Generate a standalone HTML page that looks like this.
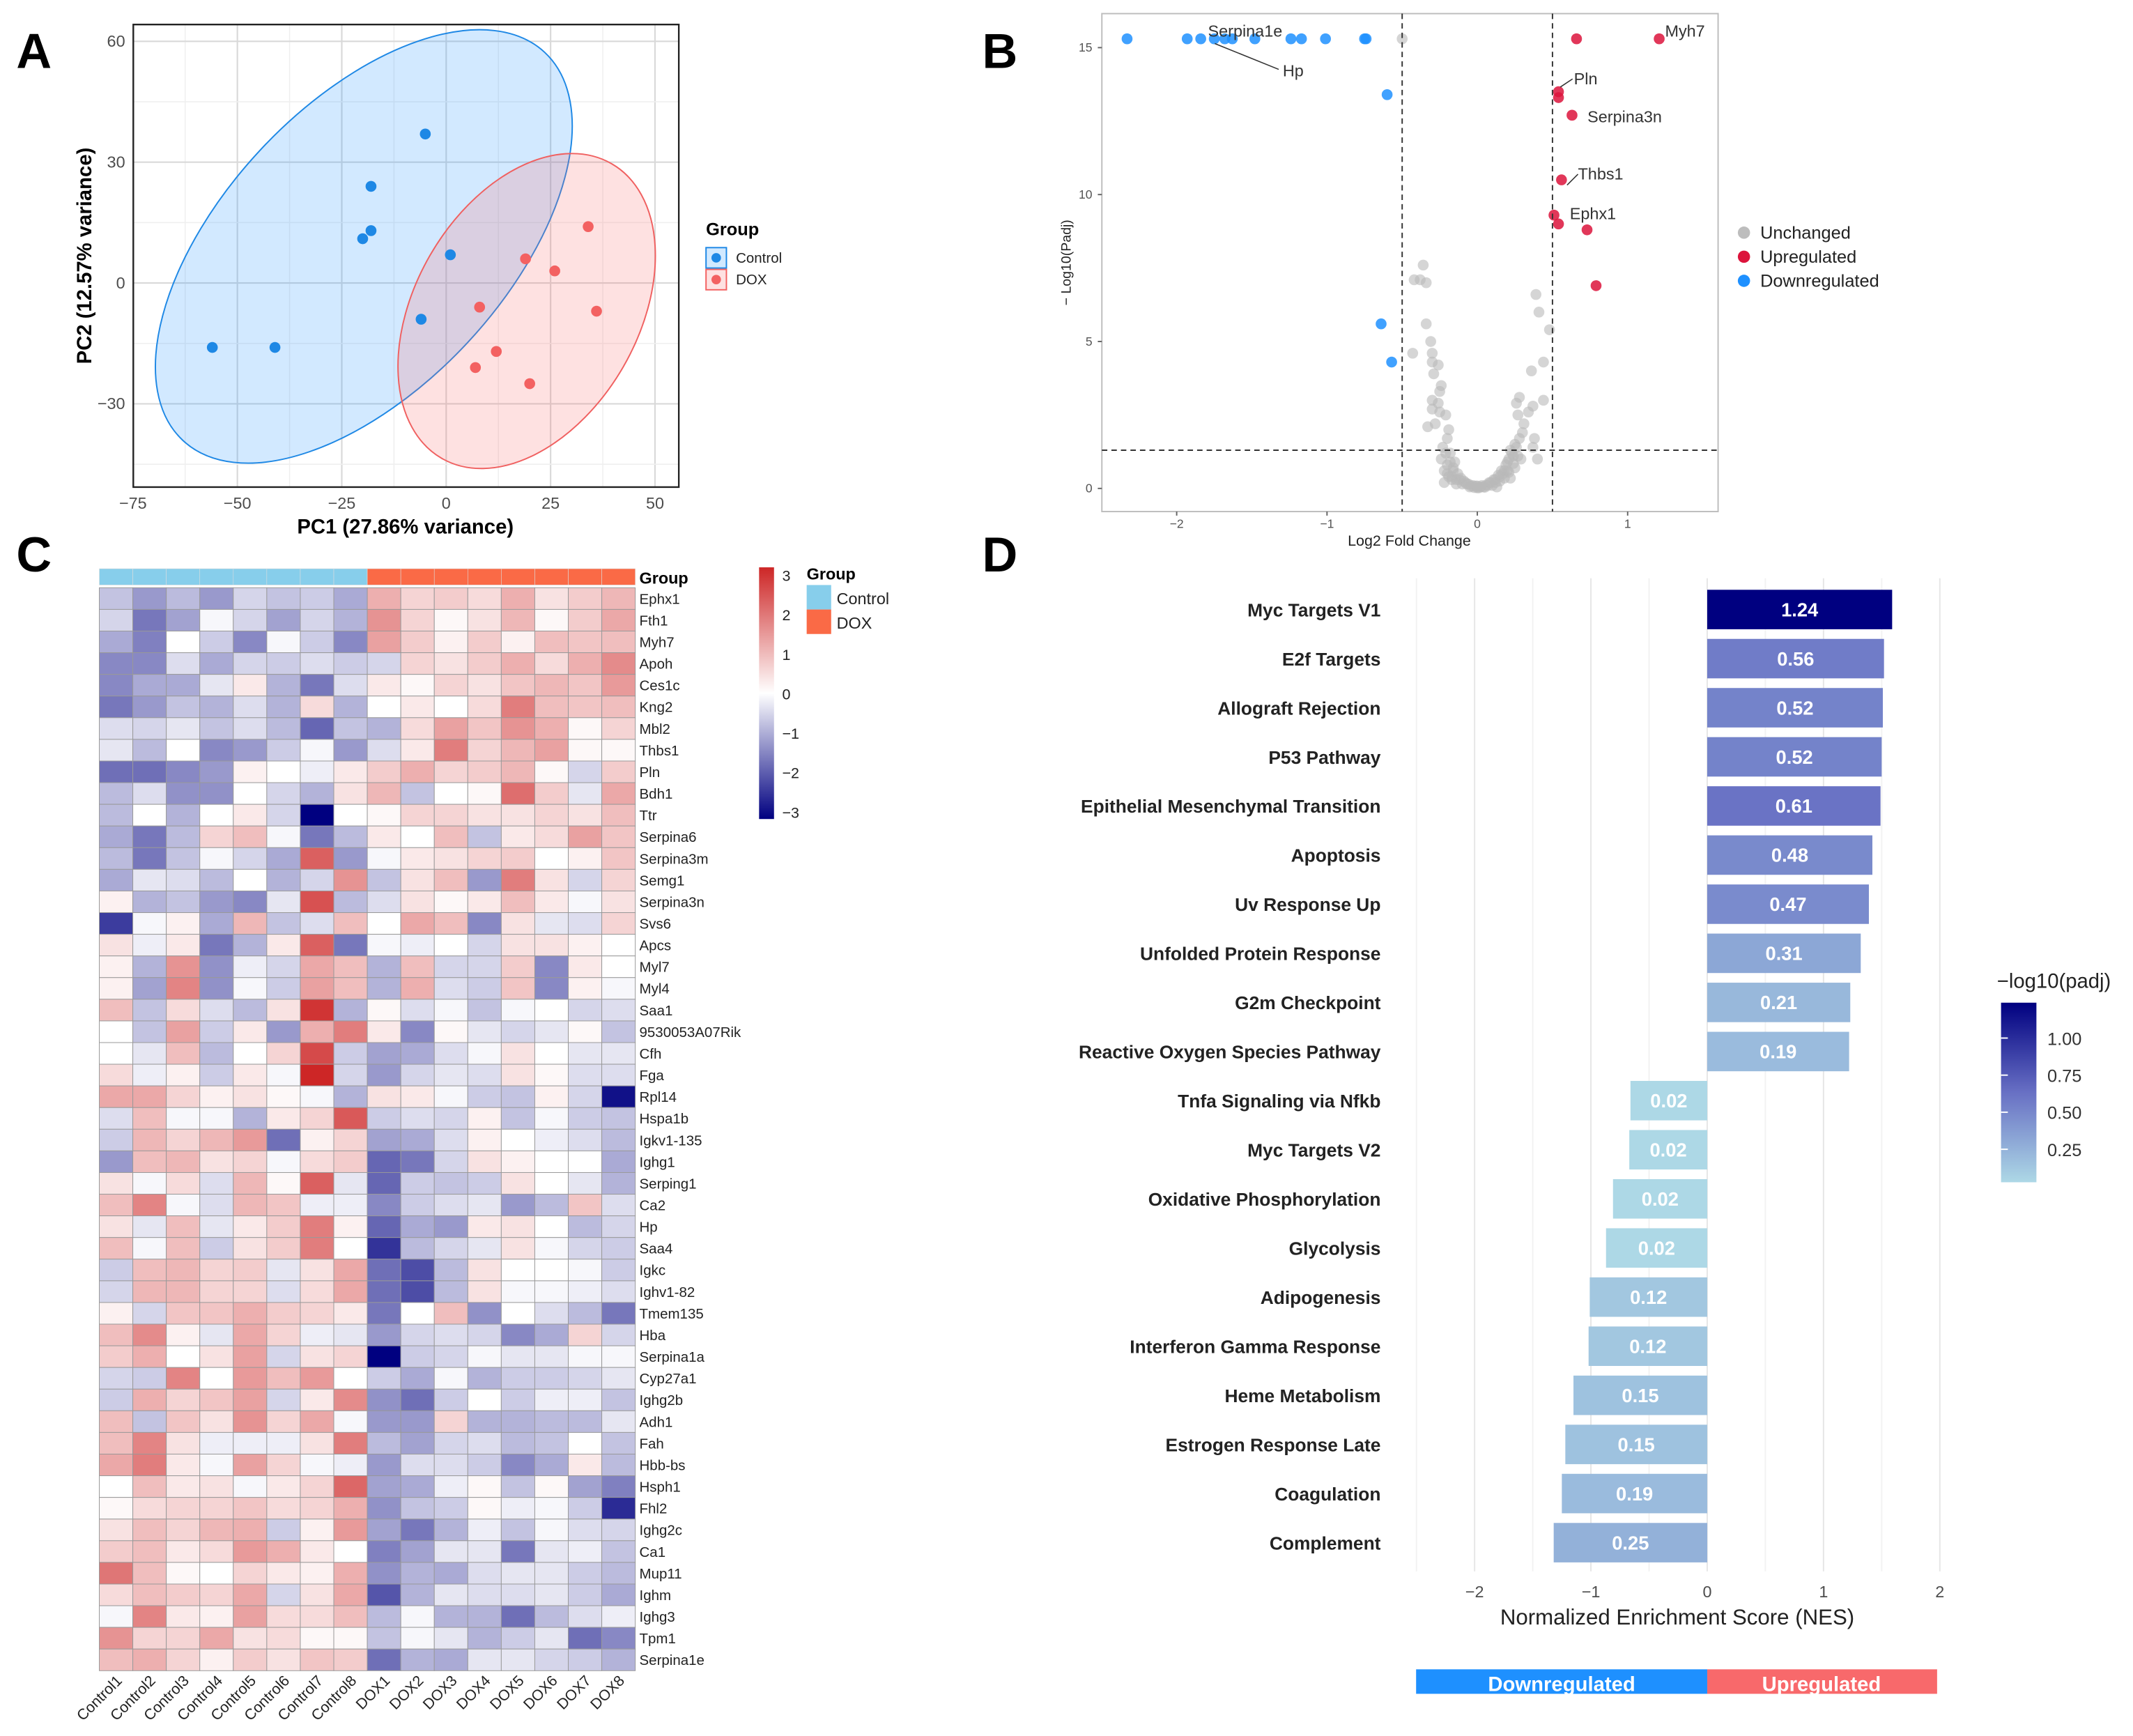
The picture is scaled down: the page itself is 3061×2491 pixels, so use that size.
<!DOCTYPE html>
<html><head><meta charset="utf-8"><style>
html,body{margin:0;padding:0;background:#fff;}
svg{display:block;font-family:"Liberation Sans",Arial,sans-serif;}
</style></head><body>
<svg id="fig" width="3061" height="2491" viewBox="0 0 1568 1276" xmlns="http://www.w3.org/2000/svg">
<rect x="0" y="0" width="1568" height="1276" fill="#fff"/>
<text x="12" y="50" font-size="36" font-weight="bold">A</text>
<text x="722" y="50" font-size="36" font-weight="bold">B</text>
<text x="12" y="420" font-size="36" font-weight="bold">C</text>
<text x="722" y="420" font-size="36" font-weight="bold">D</text>
<g id="pA"></g>
<g id="pB"></g>
<g id="pC"></g>
<g id="pD"></g>
</svg>
<script>
// ---------- Panel A data ----------
const pcaXTicks = [-75,-50,-25,0,25,50];
const pcaYTicks = [-30,0,30,60];
const ctrlPC1 = [-56,-41,-18,-18,-20,-5,1,-6];
const ctrlPC2 = [-16,-16,24,13,11,37,7,-9];
const doxPC1 = [8,19,26,34,36,12,7,20];
const doxPC2 = [-6,6,3,14,-7,-17,-21,-25];
const pcaGroups = ['Control','DOX'];
// ---------- Panel B data ----------
const volXTicks = [-2,-1,0,1];
const volYTicks = [0,5,10,15];
const downLFC = [-2.33,-1.93,-1.84,-1.75,-1.68,-1.63,-1.48,-1.24,-1.17,-1.01,-0.75,-0.74,-0.6,-0.64,-0.57];
const downP = [15.3,15.3,15.3,15.3,15.3,15.3,15.3,15.3,15.3,15.3,15.3,15.3,13.4,5.6,4.3];
const upLFC = [0.66,1.21,0.54,0.54,0.63,0.56,0.51,0.54,0.73,0.79];
const upP = [15.3,15.3,13.5,13.3,12.7,10.5,9.3,9.0,8.8,6.9];
const grayLFC = [-0.5,-0.36,-0.42,-0.38,-0.34,-0.34,-0.31,-0.43,-0.3,-0.3,-0.26,-0.29,-0.24,-0.25,-0.3,-0.26,-0.3,-0.25,-0.21,-0.28,-0.33,-0.19,-0.2,-0.23,-0.18,-0.24,-0.2,-0.16,-0.19,-0.14,-0.1,-0.05,0,0.05,0.1,0.15,0.39,0.41,0.48,0.44,0.36,0.28,0.26,0.37,0.44,0.34,0.27,0.31,0.3,0.28,0.38,0.25,0.37,0.22,0.4,0.29,0.2,0.25,0.17,0.22,0.12,-0.12,-0.08,-0.03,0.02,0.07,0.12,0.18,-0.15,-0.22,0.2,0.24,-0.17,0.15,-0.06,0.08,0.03,-0.01,
 -0.21,-0.18,-0.16,-0.13,-0.11,-0.09,-0.07,-0.04,-0.02,0.01,0.04,0.06,0.09,0.11,0.14,0.16,0.19,0.21,0.23,0.26,-0.2,-0.17,-0.14,0.18,0.21,0.24,0.27,-0.22,0.13,0.0];
const grayP = [15.3,7.6,7.1,7.1,7.0,5.6,5.0,4.6,4.6,4.3,4.2,3.9,3.5,3.3,3.0,2.9,2.7,2.6,2.5,2.2,2.1,2.0,1.7,1.4,1.2,1.0,0.8,0.6,0.4,0.3,0.15,0.05,0.02,0.04,0.1,0.25,6.6,6.0,5.4,4.3,4.0,3.1,2.9,2.8,3.0,2.6,2.5,2.2,1.9,1.7,1.7,1.5,1.4,1.3,1.0,1.0,0.9,0.7,0.5,0.35,0.2,0.3,0.2,0.1,0.05,0.1,0.3,0.6,0.9,0.6,0.6,1.1,0.4,0.4,0.15,0.2,0.1,0.08,
 1.2,0.9,0.7,0.5,0.35,0.25,0.15,0.08,0.03,0.02,0.05,0.12,0.2,0.3,0.45,0.6,0.8,1.0,1.2,1.4,0.5,0.3,0.15,0.35,0.55,0.85,1.1,0.2,0.05,0.08];
const volLabels = ['Serpina1e','Hp','Myh7','Pln','Serpina3n','Thbs1','Ephx1'];
// ---------- Panel C data ----------
const samples = ['Control1','Control2','Control3','Control4','Control5','Control6','Control7','Control8','DOX1','DOX2','DOX3','DOX4','DOX5','DOX6','DOX7','DOX8'];
const genes = ['Ephx1','Fth1','Myh7','Apoh','Ces1c','Kng2','Mbl2','Thbs1','Pln','Bdh1','Ttr','Serpina6','Serpina3m','Semg1','Serpina3n','Svs6','Apcs','Myl7','Myl4','Saa1','9530053A07Rik','Cfh','Fga','Rpl14','Hspa1b','Igkv1-135','Ighg1','Serping1','Ca2','Hp','Saa4','Igkc','Ighv1-82','Tmem135','Hba','Serpina1a','Cyp27a1','Ighg2b','Adh1','Fah','Hbb-bs','Hsph1','Fhl2','Ighg2c','Ca1','Mup11','Ighm','Ighg3','Tpm1','Serpina1e'];
const zscores = [
[-0.7,-1.2,-0.8,-1.2,-0.5,-0.7,-0.6,-1,1.1,0.6,0.7,0.5,1.1,0.4,0.7,1.0],
[-0.5,-1.6,-1.1,-0.1,-0.5,-1.1,-0.5,-0.9,1.5,0.6,0.1,0.4,1.0,0.1,0.7,1.2],
[-1,-1.5,0,-0.6,-1.4,-0.1,-0.6,-1.4,1.3,0.7,0.2,0.7,0.2,0.9,0.8,0.9],
[-1.4,-1.4,-0.4,-1,-0.5,-0.6,-0.4,-0.6,-0.5,0.6,0.4,0.7,1.1,0.5,1.1,1.6],
[-1.4,-1,-1,-0.3,0.3,-0.9,-1.6,-0.4,0.3,0.1,0.6,0.4,0.8,1.0,0.8,1.4],
[-1.6,-1.2,-0.7,-0.9,-0.4,-0.9,0.5,-0.9,0,0.3,0,0.5,1.8,0.9,0.8,0.9],
[-0.4,-0.5,-0.3,-0.7,-0.4,-0.8,-1.8,-0.7,-0.9,0.5,1.3,0.8,1.5,1.1,0.1,0.6],
[-0.3,-0.8,0,-1.4,-1.2,-0.6,-0.1,-1.2,-0.4,0.3,1.8,0.6,1.0,1.3,0.1,0.1],
[-1.7,-1.7,-1.4,-1.2,0.2,0,-0.2,0.3,0.7,1.1,0.6,0.7,1.0,0.1,-0.5,0.7],
[-0.8,-0.4,-1.3,-1.3,0,-0.5,-0.9,0.4,1.0,-0.7,0,0.1,2.0,0.7,-0.3,1.2],
[-0.8,0,-0.9,0,0.3,-0.5,-3,0,0.1,0.6,0.6,0.4,0.4,0.6,0.4,0.9],
[-1,-1.6,-0.8,0.6,0.9,-0.1,-1.6,-0.8,0.3,0,0.9,-0.7,0.3,0.5,1.3,0.8],
[-0.8,-1.6,-0.7,-0.1,-0.5,-1,2.2,-1.2,-0.1,0.3,0.4,0.6,0.7,0,0.2,0.8],
[-1,-0.3,-0.4,-0.8,0,-0.9,-0.5,1.5,-0.7,0.4,0.9,-1.2,1.8,0.4,-0.5,0.6],
[0.2,-0.9,-0.7,-1.2,-1.4,-0.3,2.4,-0.8,-0.4,0.4,0.1,0.3,0.9,0.3,-0.1,0.4],
[-2.3,-0.1,0.2,-1,1,-0.7,-0.4,0.9,0,1.2,0.9,-1.4,0.4,-0.3,-0.4,0.6],
[0.4,-0.2,0.3,-1.6,-0.9,0.3,2.2,-1.6,-0.1,-0.2,0,-0.5,0.4,0.4,0.2,0],
[0.2,-0.9,1.5,-1.3,-0.2,-0.5,1.2,0.9,-0.9,0.9,-0.5,-0.5,0.7,-1.4,0.3,0],
[0.2,-1.1,1.7,-1.3,-0.1,-0.6,1.3,0.9,-0.9,1.1,-0.4,-0.6,0.8,-1.4,0.2,-0.1],
[0.9,-0.7,0.5,-0.4,-0.8,0.4,2.8,-0.9,0.1,-0.4,-0.1,-0.7,-0.1,0,-0.5,-0.4],
[0,-0.7,1.3,-0.6,0.3,-1.2,1.1,1.8,0.3,-1.4,0.1,-0.3,-0.5,-0.3,0.1,-0.7],
[0,-0.3,0.9,-0.8,0,0.6,2.5,-0.6,-1.1,-1.0,-0.4,-0.1,0.4,0,-0.3,-0.3],
[0.5,-0.2,0.2,-0.6,0.3,-0.1,3,-0.5,-1.2,-0.5,-0.3,-0.4,0.4,0.1,-0.4,-0.4],
[1.2,1.2,0.6,0.2,0.4,0.1,-0.1,-0.9,0.4,0.3,-0.1,-0.6,-0.7,0.2,-0.5,-2.8],
[-0.4,0.9,-0.1,-0.1,-0.9,0.3,0.6,2.3,-0.6,-0.4,-0.5,0.2,-0.7,-0.1,-0.6,-0.7],
[-0.6,1,0.6,1,1.4,-1.7,0.2,0.6,-1.1,-1,-0.4,0.2,0,-0.2,-0.4,-0.8],
[-1.2,0.9,1.0,0.4,0.6,-0.1,0.5,0.7,-1.8,-1.6,-0.5,0.4,0.2,0,0,-1.0],
[0.4,-0.1,0.5,-0.4,1,0.1,2.2,-0.3,-1.8,-0.6,-0.7,-0.6,0.4,0,-0.3,-0.9],
[0.9,1.7,-0.1,-0.4,1,0.8,-0.2,-0.2,-1.4,-0.6,-0.4,-0.3,-1.2,-0.8,0.8,-0.4],
[0.4,-0.3,0.9,-0.3,0.3,0.7,1.8,0.2,-1.8,-1,-1.2,0.3,0.4,0,-0.8,-0.5],
[0.9,-0.1,0.9,-0.6,0.4,0.7,1.8,0,-2.4,-0.8,-0.5,-0.3,0.4,-0.1,-0.5,-0.6],
[-0.6,0.9,1,0.6,0.7,-0.3,0.4,1.2,-1.7,-2.1,-0.8,0.4,0,0,-0.1,-0.6],
[-0.5,1,1,0.6,0.6,-0.4,0.5,1.2,-1.7,-2.1,-0.8,0.4,-0.1,-0.1,-0.2,-0.4],
[0.2,-0.5,0.8,0.8,1.1,0.7,0.6,0.3,-1.6,0,0.9,-1.3,0,-0.4,-0.8,-1.6],
[0.9,1.6,0.2,-0.3,1.2,0.6,-0.2,-0.3,-1.2,-0.5,-0.4,-0.5,-1.4,-1,0.6,-0.5],
[0.7,1.1,0,0.4,1.3,-0.5,0.4,0.6,-3,-0.6,-0.5,-0.1,-0.3,-0.3,-0.1,-0.1],
[-0.5,-0.6,1.7,0,1.4,0.9,1.4,0,-0.6,-1,-0.1,-0.9,-0.6,-0.6,-0.5,-0.3],
[-0.6,1.1,0.6,0.8,1.3,-0.5,0.3,1.6,-1.3,-1.7,-0.6,0,-0.6,-0.2,-0.2,-0.7],
[0.9,-0.7,0.8,0.4,1.5,0.6,1.2,-0.1,-1.2,-1.2,0.6,-0.9,-0.9,-0.8,-0.8,-0.3],
[0.9,1.7,0.4,-0.2,-0.2,-0.2,0.4,1.8,-0.8,-1.1,-0.5,-0.4,-0.8,-0.7,0,-0.7],
[1.2,1.8,0.3,-0.1,1.3,0.6,-0.1,-0.2,-1.2,-0.4,-0.4,-0.6,-1.4,-1,0.3,-0.8],
[0,0.9,0.3,0.4,-0.1,0.3,0.6,2.1,-1.1,-1,-0.2,0.1,-0.7,0.1,-1.1,-1.5],
[0.1,0.5,0.6,0.6,0.8,0.5,0.6,1.1,-1.3,-0.7,-0.6,0.1,-0.2,-0.1,-0.6,-2.5],
[0.4,0.9,0.6,1,1.1,-0.6,0.2,1.4,-1.1,-1.6,-0.9,-0.2,-0.7,-0.1,-0.4,-0.5],
[0.7,0.9,0.3,0.5,1.4,1.1,0.3,0,-1.5,-1.1,-0.3,-0.3,-1.6,-0.3,-0.2,-0.7],
[1.9,0.9,0.1,0,0.6,0.3,0.2,1.1,-1.3,-0.9,-1.0,-0.4,-0.3,-0.3,-0.6,-0.8],
[0.5,0.9,0.7,0.6,1.2,-0.5,0.4,1.2,-2,-0.9,-0.3,-0.4,-0.4,-0.3,-0.6,-1],
[-0.1,1.7,0.3,0.2,1.3,0.5,0.5,0.9,-0.8,-0.1,-0.9,-0.9,-1.7,-0.8,-0.4,-0.2],
[1.5,0.6,0.6,1.2,0.4,0.5,0.1,0.1,-0.7,-0.1,-0.3,-0.9,-0.6,-0.3,-1.7,-1.4],
[0.9,1.1,0.6,0.2,0.7,0.4,0.8,0.7,-1.7,-0.9,-1,-0.3,-0.3,-0.5,-0.6,-0.9]];
const scaleTicks = [3,2,1,0,-1,-2,-3];
// ---------- Panel D data ----------
const pathways = ['Myc Targets V1','E2f Targets','Allograft Rejection','P53 Pathway','Epithelial Mesenchymal Transition','Apoptosis','Uv Response Up','Unfolded Protein Response','G2m Checkpoint','Reactive Oxygen Species Pathway','Tnfa Signaling via Nfkb','Myc Targets V2','Oxidative Phosphorylation','Glycolysis','Adipogenesis','Interferon Gamma Response','Heme Metabolism','Estrogen Response Late','Coagulation','Complement'];
const nes = [1.59,1.52,1.51,1.50,1.49,1.42,1.39,1.32,1.23,1.22,-0.66,-0.67,-0.81,-0.87,-1.01,-1.02,-1.15,-1.22,-1.25,-1.32];
const padjLog = [1.24,0.56,0.52,0.52,0.61,0.48,0.47,0.31,0.21,0.19,0.02,0.02,0.02,0.02,0.12,0.12,0.15,0.15,0.19,0.25];
const nesTicks = [-2,-1,0,1,2];
const padjScaleTicks = [1.00,0.75,0.50,0.25];

const svg = document.getElementById('fig');
const NS = svg.namespaceURI;
function el(tag, attrs, parent){ const e=document.createElementNS(NS,tag); for(const k in attrs) e.setAttribute(k,attrs[k]); parent.appendChild(e); return e; }
function tx(str, attrs, parent){ const e=el('text',attrs,parent); e.textContent=str; return e; }

// ================= Panel A =================
(function(){
const g = document.getElementById('pA');
const xA = v => 328 + v*3.07, yA = v => 208 - v*2.96;
let r = el('rect',{x:98,y:18,width:401,height:340,fill:'#fff'},g);


for (let i=0;i<pcaXTicks.length;i++){
  const v=pcaXTicks[i];
  let l = el('line',{x1:xA(v),x2:xA(v),y1:18,y2:358,stroke:'#d9d9d9','stroke-width':1.1},g);
  
  
  if (i<pcaXTicks.length-1){
    let m = el('line',{x1:xA(v+12.5),x2:xA(v+12.5),y1:18,y2:358,stroke:'#efefef','stroke-width':0.8},g);
    
    
  }
  let t = tx(String(v).replace('-','\u2212'),{x:xA(v),y:374,'font-size':12,fill:'#4d4d4d','text-anchor':'middle'},g);
  
  
}
for (let i=0;i<pcaYTicks.length;i++){
  const v=pcaYTicks[i];
  let l = el('line',{x1:98,x2:499,y1:yA(v),y2:yA(v),stroke:'#d9d9d9','stroke-width':1.1},g);
  
  
  let m = el('line',{x1:98,x2:499,y1:yA(v-15),y2:yA(v-15),stroke:'#efefef','stroke-width':0.8},g);
  
  
  let t = tx(String(v).replace('-','\u2212'),{x:92,y:yA(v)+4,'font-size':12,fill:'#4d4d4d','text-anchor':'end'},g);
  
  
}
let m2 = el('line',{x1:98,x2:499,y1:yA(-45),y2:yA(-45),stroke:'#efefef','stroke-width':0.8},g);


const mean = a => a.reduce((s,v)=>s+v,0)/a.length;
let e1 = el('ellipse',{cx:0,cy:0,rx:195,ry:104,fill:'rgba(30,144,255,0.2)',stroke:'#1E88E5','stroke-width':1,transform:`translate(${xA(mean(ctrlPC1))+2},${yA(mean(ctrlPC2))-8}) rotate(-47)`},g);


let e2 = el('ellipse',{cx:0,cy:0,rx:125,ry:82,fill:'rgba(248,105,107,0.2)',stroke:'#F06060','stroke-width':1,transform:`translate(${xA(mean(doxPC1))-3},${yA(mean(doxPC2))+1}) rotate(-60)`},g);


for (let i=0;i<ctrlPC1.length;i++){
  let c = el('circle',{cx:xA(ctrlPC1[i]),cy:yA(ctrlPC2[i]),r:4,fill:'#1E88E5'},g);
  
  
}
for (let i=0;i<doxPC1.length;i++){
  let c = el('circle',{cx:xA(doxPC1[i]),cy:yA(doxPC2[i]),r:4,fill:'#F36161'},g);
  
  
}
let b = el('path',{d:'M98,18 H499 V358 H98 Z',fill:'none',stroke:'#222','stroke-width':1.2},g);


let xt = tx('PC1 (27.86% variance)',{x:298,y:392,'font-size':15,'font-weight':'bold','text-anchor':'middle'},g);


let yt = tx('PC2 (12.57% variance)',{x:0,y:0,'font-size':15,'font-weight':'bold','text-anchor':'middle',transform:'translate(67,188) rotate(-90)'},g);


let lt = tx('Group',{x:519,y:173,'font-size':13,'font-weight':'bold'},g);


const cols=[['#1E88E5','rgba(30,144,255,0.2)'],['#F36161','rgba(248,105,107,0.2)']];
for (let i=0;i<pcaGroups.length;i++){
  const yy = 182+i*16;
  let s = el('rect',{x:519,y:yy,width:15,height:15,fill:cols[i][1],stroke:cols[i][0],'stroke-width':1},g);
  
  
  let d = el('circle',{cx:526.5,cy:yy+7.5,r:3.5,fill:cols[i][0]},g);
  
  
  let t = tx(pcaGroups[i],{x:541,y:yy+11,'font-size':10.5,fill:'#222'},g);
  
  
}
})();

// ================= Panel B =================
(function(){
const g = document.getElementById('pB');
const xV = v => 1086 + v*110.5, yV = v => 359 - v*21.6;
let r = el('rect',{x:810,y:10,width:453,height:366,fill:'#fff',stroke:'#bdbdbd','stroke-width':1},g);


for (const v of volXTicks){
  let k = el('line',{x1:xV(v),x2:xV(v),y1:376,y2:379,stroke:'#666'},g);
  
  
  let t = tx(String(v).replace('-','\u2212'),{x:xV(v),y:388,'font-size':9,fill:'#555','text-anchor':'middle'},g);
  
  
}
for (const v of volYTicks){
  let k = el('line',{x1:807,x2:810,y1:yV(v),y2:yV(v),stroke:'#666'},g);
  
  
  let t = tx(String(v),{x:803,y:yV(v)+3,'font-size':9,fill:'#555','text-anchor':'end'},g);
  
  
}
for (let i=0;i<grayLFC.length;i++){
  let c = el('circle',{cx:xV(grayLFC[i]),cy:yV(grayP[i]),r:4,fill:'rgba(185,185,185,0.6)'},g);
  
  
}
for (let i=0;i<downLFC.length;i++){
  let c = el('circle',{cx:xV(downLFC[i]),cy:yV(downP[i]),r:4,fill:'rgba(30,144,255,0.85)'},g);
  
  
}
for (let i=0;i<upLFC.length;i++){
  let c = el('circle',{cx:xV(upLFC[i]),cy:yV(upP[i]),r:4,fill:'rgba(220,20,60,0.85)'},g);
  
  
}
let v1 = el('line',{x1:xV(-0.5),x2:xV(-0.5),y1:10,y2:376,stroke:'#333','stroke-dasharray':'4,3','stroke-width':1},g);


let v2 = el('line',{x1:xV(0.5),x2:xV(0.5),y1:10,y2:376,stroke:'#333','stroke-dasharray':'4,3','stroke-width':1},g);


let h1 = el('line',{x1:810,x2:1263,y1:yV(1.3),y2:yV(1.3),stroke:'#333','stroke-dasharray':'4,3','stroke-width':1},g);


const lp = [[888,27],[943,56],[1224,27],[1157,62],[1167,90],[1160,132],[1154,161]];
for (let i=0;i<volLabels.length;i++){
  let t = tx(volLabels[i],{x:lp[i][0],y:lp[i][1],'font-size':12,fill:'#333'},g);
  
  
}
const seg = [[893,32,940,51],[1147,64,1156,58],[1152,136,1160,128]];
for (const s of seg){
  let l = el('line',{x1:s[0],y1:s[1],x2:s[2],y2:s[3],stroke:'#333','stroke-width':0.8},g);
  
  
}
let xt = tx('Log2 Fold Change',{x:1036,y:401,'font-size':11,fill:'#222','text-anchor':'middle'},g);


let yt = tx('\u2212 Log10(Padj)',{x:0,y:0,'font-size':10,fill:'#222','text-anchor':'middle',transform:'translate(787,193) rotate(-90)'},g);


const leg = [['Unchanged','#bdbdbd'],['Upregulated','#DC143C'],['Downregulated','#1E90FF']];
for (let i=0;i<leg.length;i++){
  let c = el('circle',{cx:1282,cy:171+i*17.7,r:4.5,fill:leg[i][1]},g);
  
  
  let t = tx(leg[i][0],{x:1294,y:175.5+i*17.7,'font-size':13,fill:'#222'},g);
  
  
}
})();

// ================= Panel C =================
(function(){
const g = document.getElementById('pC');
const x0=73, cw=(467-73)/16, y0=432, rh=(1228-432)/50;
function hcol(v){
  v=Math.max(-3,Math.min(3,v));
  let a,b,t;
  if (v<0){a=[0,0,128];b=[255,255,255];t=(v+3)/3;} else {a=[255,255,255];b=[205,38,38];t=v/3;}
  const c=a.map((x,i)=>Math.round(x+(b[i]-x)*t));
  return `rgb(${c[0]},${c[1]},${c[2]})`;
}
for (let j=0;j<samples.length;j++){
  let gb = el('rect',{x:x0+j*cw,y:418,width:cw,height:12,fill:j<8?'#87CEEB':'#FA6A46',stroke:'#ddd','stroke-width':0.3},g);
  
  
  let t = tx(samples[j],{x:0,y:0,'font-size':11,fill:'#222','text-anchor':'end',transform:`translate(${x0+j*cw+cw/2+5},${1236}) rotate(-45)`},g);
  
  
}
for (let i=0;i<genes.length;i++){
  for (let j=0;j<samples.length;j++){
    let c = el('rect',{x:x0+j*cw,y:y0+i*rh,width:cw,height:rh,fill:hcol(zscores[i][j]),stroke:'#999','stroke-width':0.5},g);
    
    
  }
  let t = tx(genes[i],{x:470,y:y0+i*rh+rh/2+3.8,'font-size':10.5,fill:'#222'},g);
  
  
}
let gt = tx('Group',{x:470,y:429,'font-size':12,'font-weight':'bold'},g);


const defs = el('defs',{},g);
const lg = el('linearGradient',{id:'hg',x1:0,y1:0,x2:0,y2:1},defs);
el('stop',{offset:'0','stop-color':'#CD2626'},lg);
el('stop',{offset:'0.5','stop-color':'#ffffff'},lg);
el('stop',{offset:'1','stop-color':'#000080'},lg);
let cb = el('rect',{x:558,y:417,width:11,height:185,fill:'url(#hg)'},g);


for (const v of scaleTicks){
  const yy = 510 - v*29;
  let t = tx(String(v).replace('-','\u2212'),{x:575,y:yy+4,'font-size':11,fill:'#222'},g);
  
  
}
let lt = tx('Group',{x:593,y:426,'font-size':12,'font-weight':'bold'},g);


const lg2=[['Control','#87CEEB'],['DOX','#FA6A46']];
for (let i=0;i<2;i++){
  let s = el('rect',{x:593,y:430+i*18,width:18,height:18,fill:lg2[i][1]},g);
  
  
  let t = tx(lg2[i][0],{x:615,y:444+i*18,'font-size':12,fill:'#222'},g);
  
  
}
})();

// ================= Panel D =================
(function(){
const g = document.getElementById('pD');
const xD = v => 1255 + v*85.5;
const yD = i => 448 + i*36.1;
function pc(v){
  const t=Math.max(0,Math.min(1,(v-0.02)/1.22));
  const s=[[173,216,230],[104,112,196],[0,0,128]];
  let a,b,u;
  if(t<0.5){a=s[0];b=s[1];u=t/0.5;}else{a=s[1];b=s[2];u=(t-0.5)/0.5;}
  const c=a.map((x,i)=>Math.round(x+(b[i]-x)*u));
  return `rgb(${c[0]},${c[1]},${c[2]})`;
}
for (let v=-2.5; v<=2; v+=0.5){
  let l = el('line',{x1:xD(v),x2:xD(v),y1:425,y2:1155,stroke:Number.isInteger(v)?'#e6e6e6':'#f2f2f2','stroke-width':1},g);
  
  
}
for (const v of nesTicks){
  let t = tx(String(v).replace('-','\u2212'),{x:xD(v),y:1174,'font-size':12,fill:'#4d4d4d','text-anchor':'middle'},g);
  
  
}
for (let i=0;i<pathways.length;i++){
  const x1=Math.min(xD(0),xD(nes[i])), w=Math.abs(xD(nes[i])-xD(0));
  let b = el('rect',{x:x1,y:yD(i)-14.5,width:w,height:29,fill:pc(padjLog[i])},g);
  
  
  let v = tx(padjLog[i].toFixed(2),{x:x1+w/2,y:yD(i)+5,'font-size':14,'font-weight':'bold',fill:'#fff','text-anchor':'middle'},g);
  
  
  let t = tx(pathways[i],{x:1015,y:yD(i)+5,'font-size':13.5,'font-weight':'bold',fill:'#222','text-anchor':'end'},g);
  
  
}
let xt = tx('Normalized Enrichment Score (NES)',{x:1233,y:1194,'font-size':16,fill:'#222','text-anchor':'middle'},g);


let db = el('rect',{x:1041,y:1227,width:214,height:18,fill:'#1E90FF'},g);


let ub = el('rect',{x:1255,y:1227,width:169,height:18,fill:'#F8696B'},g);


let dt = tx('Downregulated',{x:1148,y:1243,'font-size':15,'font-weight':'bold',fill:'#fff','text-anchor':'middle'},g);


let ut = tx('Upregulated',{x:1339,y:1243,'font-size':15,'font-weight':'bold',fill:'#fff','text-anchor':'middle'},g);


const defs = el('defs',{},g);
const lg = el('linearGradient',{id:'pg',x1:0,y1:1,x2:0,y2:0},defs);
el('stop',{offset:'0','stop-color':'#ADD8E6'},lg);
el('stop',{offset:'0.5','stop-color':'#6870C4'},lg);
el('stop',{offset:'1','stop-color':'#000080'},lg);
let lt = tx('\u2212log10(padj)',{x:1468,y:726,'font-size':15,fill:'#222'},g);


let cb = el('rect',{x:1471,y:737,width:26,height:132,fill:'url(#pg)'},g);


for (const v of padjScaleTicks){
  const yy = 763 + (1-v)*109;
  let k = el('line',{x1:1471,x2:1476,y1:yy,y2:yy,stroke:'#fff'},g);
  
  
  let t = tx(v.toFixed(2),{x:1505,y:yy+5,'font-size':13,fill:'#333'},g);
  
  
}
})();
</script>
</body></html>
